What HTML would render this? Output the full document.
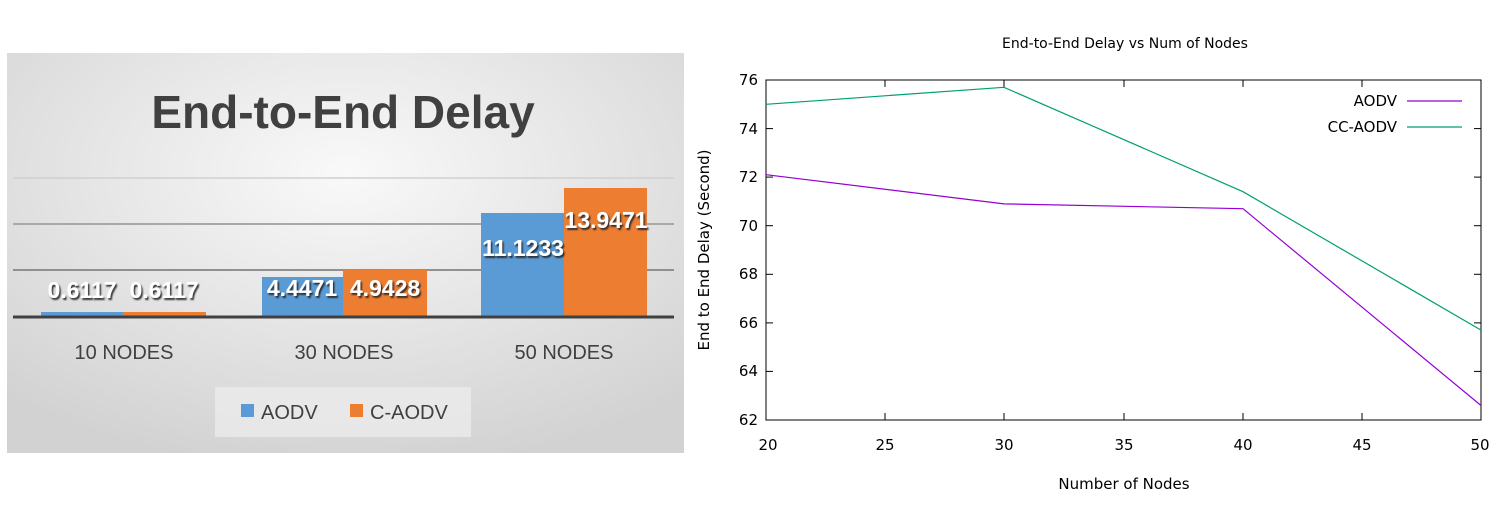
<!DOCTYPE html>
<html><head><meta charset="utf-8"><style>
html,body{margin:0;padding:0;background:#fff;width:1498px;height:521px;overflow:hidden}
svg{display:block}
</style></head><body>
<svg width="1498" height="521" viewBox="0 0 1498 521" xmlns="http://www.w3.org/2000/svg">
<defs>
<radialGradient id="bg" cx="0.5" cy="0.3" r="0.75">
<stop offset="0" stop-color="#f9f9f9"/><stop offset="1" stop-color="#d2d2d2"/>
</radialGradient>
<filter id="sh" x="-10%" y="-10%" width="130%" height="140%"><feDropShadow dx="1.5" dy="2" stdDeviation="0.8" flood-color="#222" flood-opacity="0.9"/></filter>
</defs>
<!-- Left chart -->
<rect x="7" y="53" width="677" height="400" fill="url(#bg)"/>
<text x="343" y="128" font-family="Liberation Sans, sans-serif" font-weight="bold" font-size="46" fill="#404040" text-anchor="middle">End-to-End Delay</text>
<line x1="13" y1="178" x2="674" y2="178" stroke="#d0d0d0" stroke-width="1.5"/>
<line x1="13" y1="224" x2="674" y2="224" stroke="#a8a8a8" stroke-width="2"/>
<line x1="13" y1="270" x2="674" y2="270" stroke="#909090" stroke-width="2"/>
<rect x="41" y="312" width="82" height="5" fill="#5b9bd5"/>
<rect x="123" y="312" width="83" height="5" fill="#ed7d31"/>
<rect x="262" y="277" width="81" height="40" fill="#5b9bd5"/>
<rect x="343" y="270" width="84" height="47" fill="#ed7d31"/>
<rect x="481" y="213" width="83" height="104" fill="#5b9bd5"/>
<rect x="564" y="188" width="83" height="129" fill="#ed7d31"/>
<line x1="13" y1="317" x2="674" y2="317" stroke="#404040" stroke-width="3"/>
<g font-family="Liberation Sans, sans-serif" font-weight="bold" font-size="23" fill="#fff" text-anchor="middle" filter="url(#sh)">
<text x="82" y="298">0.6117</text><text x="164" y="298">0.6117</text>
<text x="302" y="296">4.4471</text><text x="385" y="296">4.9428</text>
<text x="523" y="256">11.1233</text><text x="606" y="228">13.9471</text>
</g>
<g font-family="Liberation Sans, sans-serif" font-size="20" fill="#404040" text-anchor="middle">
<text x="124" y="359">10 NODES</text><text x="344" y="359">30 NODES</text><text x="564" y="359">50 NODES</text>
</g>
<rect x="215" y="387" width="256" height="50" fill="#ebebeb" opacity="0.8"/>
<rect x="241" y="404" width="13" height="13" fill="#5b9bd5"/>
<text x="261" y="419" font-family="Liberation Sans, sans-serif" font-size="20" fill="#404040">AODV</text>
<rect x="350" y="404" width="13" height="13" fill="#ed7d31"/>
<text x="370" y="419" font-family="Liberation Sans, sans-serif" font-size="20" fill="#404040">C-AODV</text>

<!-- Right chart -->
<g font-family="DejaVu Sans, Liberation Sans, sans-serif" fill="#000">
<text x="1125" y="48" font-size="14" text-anchor="middle">End-to-End Delay vs Num of Nodes</text>
<rect x="766" y="80" width="715" height="340" fill="none" stroke="#000" stroke-width="1"/>
<g stroke="#000" stroke-width="1">
<line x1="766" y1="80" x2="773" y2="80"/><line x1="1481" y1="80" x2="1474" y2="80"/>
<line x1="766" y1="128.6" x2="773" y2="128.6"/><line x1="1481" y1="128.6" x2="1474" y2="128.6"/>
<line x1="766" y1="177.1" x2="773" y2="177.1"/><line x1="1481" y1="177.1" x2="1474" y2="177.1"/>
<line x1="766" y1="225.7" x2="773" y2="225.7"/><line x1="1481" y1="225.7" x2="1474" y2="225.7"/>
<line x1="766" y1="274.3" x2="773" y2="274.3"/><line x1="1481" y1="274.3" x2="1474" y2="274.3"/>
<line x1="766" y1="322.9" x2="773" y2="322.9"/><line x1="1481" y1="322.9" x2="1474" y2="322.9"/>
<line x1="766" y1="371.4" x2="773" y2="371.4"/><line x1="1481" y1="371.4" x2="1474" y2="371.4"/>
<line x1="885" y1="420" x2="885" y2="413"/><line x1="885" y1="80" x2="885" y2="87"/>
<line x1="1004" y1="420" x2="1004" y2="413"/><line x1="1004" y1="80" x2="1004" y2="87"/>
<line x1="1124" y1="420" x2="1124" y2="413"/><line x1="1124" y1="80" x2="1124" y2="87"/>
<line x1="1243" y1="420" x2="1243" y2="413"/><line x1="1243" y1="80" x2="1243" y2="87"/>
<line x1="1362" y1="420" x2="1362" y2="413"/><line x1="1362" y1="80" x2="1362" y2="87"/>
</g>
<g font-size="15" text-anchor="end">
<text x="758" y="85">76</text><text x="758" y="134">74</text><text x="758" y="182">72</text><text x="758" y="231">70</text>
<text x="758" y="279">68</text><text x="758" y="328">66</text><text x="758" y="376">64</text><text x="758" y="425">62</text>
</g>
<g font-size="15" text-anchor="middle">
<text x="768" y="450">20</text><text x="885" y="450">25</text><text x="1004" y="450">30</text><text x="1124" y="450">35</text>
<text x="1243" y="450">40</text><text x="1362" y="450">45</text><text x="1480" y="450">50</text>
</g>
<text x="1124" y="489" font-size="15" text-anchor="middle">Number of Nodes</text>
<text transform="translate(709,250) rotate(-90)" font-size="15" text-anchor="middle">End to End Delay (Second)</text>
<text x="1397" y="106" font-size="15" text-anchor="end">AODV</text>
<text x="1397" y="132" font-size="15" text-anchor="end">CC-AODV</text>
</g>
<line x1="1407" y1="101" x2="1462" y2="101" stroke="#9400d3" stroke-width="1.2"/>
<line x1="1407" y1="127" x2="1462" y2="127" stroke="#009e73" stroke-width="1.2"/>
<polyline points="766,104.3 1004,87.3 1243,191.7 1481,330.1" fill="none" stroke="#009e73" stroke-width="1.2"/>
<polyline points="766,174.7 1004,203.9 1243,208.7 1481,405.5" fill="none" stroke="#9400d3" stroke-width="1.2"/>
</svg>
</body></html>
